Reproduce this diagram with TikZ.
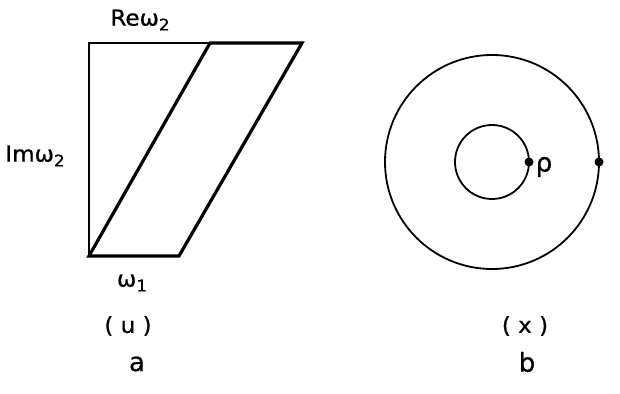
\documentclass[tikz,border=0pt]{standalone}
\usepackage{fontspec}
\usepackage{graphicx}
\setmainfont{DejaVu Sans}
\newfontfamily\labfont{DejaVu Sans}[FakeBold=0.8]
\newcommand{\lsub}[1]{\raisebox{-0.4ex}{\fontsize{16}{16}\selectfont #1}}
\newcommand{\wide}[1]{\scalebox{1.05}[1]{#1}}
\begin{document}
\begin{tikzpicture}[x=1pt,y=1pt,
  thinline/.style={line width=1.8pt},
  thickline/.style={line width=3.2pt, line join=miter},
  circ/.style={line width=1.8pt},
  lab/.style={inner sep=0pt, font=\labfont\fontsize{22}{26}\selectfont},
  biglab/.style={inner sep=0pt, font=\labfont\fontsize{26}{30}\selectfont},
  dotmark/.style={circle, fill=black, inner sep=0pt, minimum size=9pt}]
\useasboundingbox (0,0) rectangle (620,393);
% figure a
\coordinate (A) at (89,137);
\coordinate (B) at (179,137);
\coordinate (C) at (302,350);
\coordinate (D) at (210,350);
\coordinate (E) at (89,350);
\draw[thinline] (D) -- (E) -- (A);
\draw[thickline] (A) -- (B) -- (C) -- (D) -- cycle;
\node[lab] (re) at (140,373) {\wide{Reω\lsub{2}}};
\node[lab] (im) at (35,237) {\wide{Imω\lsub{2}}};
\node[lab] (w1) at (132,110) {\wide{ω\lsub{1}}};
\node[lab] (u) at (128,67) {\wide{( u )}};
\node[biglab] (a) at (137,29) {a};
% figure b
\coordinate (O) at (492,231);
\draw[circ] (O) circle[radius=107];
\draw[circ] (O) circle[radius=37];
\node[dotmark] (p) at (529,231) {};
\node[dotmark] (q) at (599,231) {};
\node[biglab] (rho) at (544,226) {ρ};
\node[lab] (x) at (525,67) {\wide{( x )}};
\node[biglab] (b) at (527,31) {b};
\end{tikzpicture}
\end{document}
